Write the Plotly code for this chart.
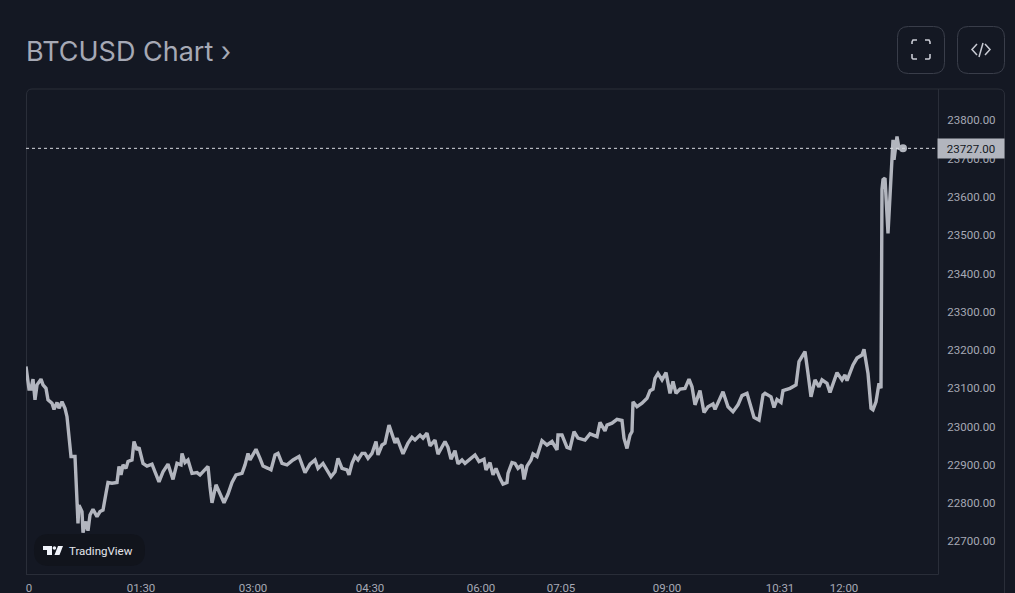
import plotly.graph_objects as go

W, H = 1015, 593
L, R, T, B = 26, 938, 89, 574
BG = "#141823"
GRID = "#2a2e39"
LINE = "#b2b5be"

tick_vals = [3, 115, 227, 344, 455, 535, 641, 754, 818]
tick_text = ["0", "01:30", "03:00", "04:30", "06:00", "07:05", "09:00", "10:31", "12:00"]
price_ticks = [22700, 22800, 22900, 23000, 23100, 23200, 23300, 23400, 23500, 23600, 23700, 23800]

bars = [0,1,3,5,7,9,11,15,17,20,22,26,28,31,33,36,39,41,43,45,49,50,51,52,53,56,57,60,62,64,67,71,74,77,80,82,86,91,93,95,97,100,102,106,108,111,113,117,121,126,129,133,137,142,147,151,155,156,159,162,166,171,174,177,182,184,186,190,194,198,202,206,210,216,219,222,224,230,234,237,242,245,249,252,256,261,267,273,279,284,289,292,297,305,309,312,
316,321,323,326,329,332,336,339,342,346,350,352,356,359,363,366,369,371,374,377,382,386,389,394,397,401,404,409,412,419,422,425,429,432,436,439,444,449,453,458,460,464,467,470,474,477,481,482,486,489,492,496,498,501,505,507,511,516,521,526,531,532,536,541,544,548,552,559,564,571,574,579,581,586,591,596,598,601,604,606,607,611,616,621,624,627,629,632,636,640,644,647,650,654,
659,663,666,669,674,678,682,687,689,697,702,707,712,716,721,724,728,733,737,739,745,748,751,755,757,764,770,773,779,782,785,789,793,796,801,804,811,816,819,821,827,831,836,838,842,845,847,850,853,855,856,857,859,862,865,867,868,871,873,877]

prices = [23157,23131,23098,23098,23124,23070,23109,23124,23109,23100,23070,23061,23045,23063,23048,23065,23048,23026,22974,22922,22922,22843,22791,22747,22795,22778,22723,22752,22728,22769,22784,22765,22778,22782,22826,22854,22852,22854,22896,22874,22900,22891,22909,22913,22961,22939,22946,22904,22897,22902,22882,22856,22882,22902,22862,22904,22900,22930,22906,22913,22878,22880,22874,22882,22896,22843,22801,22848,22824,22801,22824,22854,22874,22878,22900,22930,22913,22941,22917,22897,22891,22887,22926,22930,22904,22900,22913,22922,22880,22902,22913,22891,22904,22869,22882,22917,
22891,22887,22874,22904,22922,22913,22930,22930,22917,22930,22961,22926,22952,22957,23004,22978,22957,22970,22952,22929,22957,22972,22965,22978,22970,22983,22950,22965,22928,22961,22946,22915,22937,22903,22913,22904,22915,22926,22909,22915,22887,22906,22874,22891,22865,22850,22854,22878,22906,22904,22891,22900,22862,22897,22913,22929,22922,22963,22952,22961,22939,22978,22978,22946,22943,22987,22970,22965,22981,22974,23011,22989,23004,23009,23019,23016,22970,22943,22978,22987,23065,23052,23061,23074,23094,23098,23126,23139,23122,23141,23087,23118,23087,23098,
23100,23124,23104,23057,23094,23037,23052,23059,23045,23091,23052,23039,23057,23081,23087,23057,23024,23017,23083,23087,23078,23050,23071,23063,23094,23100,23109,23170,23196,23139,23078,23122,23104,23122,23113,23089,23141,23122,23135,23120,23161,23179,23187,23202,23139,23048,23044,23065,23113,23100,23620,23645,23649,23505,23662,23749,23697,23758,23727,23727]

last_price = 23727


def xp(x):
    return (x - L) / (R - L)


def yp(y):
    return (B - y) / (B - T)


def path(points, close=False):
    s = "M " + " L ".join(f"{xp(x):.5f},{yp(y):.5f}" for x, y in points)
    return s + (" Z" if close else "")


def rrect(x0, y0, x1, y1, r):
    return (
        f"M {xp(x0 + r):.5f},{yp(y0):.5f} L {xp(x1 - r):.5f},{yp(y0):.5f} "
        f"Q {xp(x1):.5f},{yp(y0):.5f} {xp(x1):.5f},{yp(y0 + r):.5f} "
        f"L {xp(x1):.5f},{yp(y1 - r):.5f} Q {xp(x1):.5f},{yp(y1):.5f} {xp(x1 - r):.5f},{yp(y1):.5f} "
        f"L {xp(x0 + r):.5f},{yp(y1):.5f} Q {xp(x0):.5f},{yp(y1):.5f} {xp(x0):.5f},{yp(y1 - r):.5f} "
        f"L {xp(x0):.5f},{yp(y0 + r):.5f} Q {xp(x0):.5f},{yp(y0):.5f} {xp(x0 + r):.5f},{yp(y0):.5f} Z"
    )


def pshape(d, color=None, fill=None, width=1, layer="above"):
    return dict(
        type="path", xref="x domain", yref="y domain", path=d, layer=layer,
        line=dict(color=color or "rgba(0,0,0,0)", width=width),
        fillcolor=fill or "rgba(0,0,0,0)",
    )


shapes = []
panel = (
    f"M {xp(26.5):.5f},{yp(574):.5f} L {xp(26.5):.5f},{yp(95):.5f} "
    f"Q {xp(26.5):.5f},{yp(89):.5f} {xp(32):.5f},{yp(89):.5f} "
    f"L {xp(998):.5f},{yp(89):.5f} Q {xp(1004.5):.5f},{yp(89):.5f} {xp(1004.5):.5f},{yp(95):.5f} "
    f"L {xp(1004.5):.5f},{yp(593):.5f}"
)
shapes.append(pshape(panel, GRID, layer="below"))
shapes.append(pshape(path([(26, 574.5), (938.5, 574.5), (938.5, 89)]), GRID, layer="below"))
shapes.append(pshape(rrect(34, 534, 145, 566, 15), None, "#11141c", layer="below"))
shapes.append(pshape(path([(43, 546), (52, 546), (52, 555), (47, 555), (47, 550), (43, 550)], True), None, "#f0f3fa"))
shapes.append(dict(type="circle", xref="x domain", yref="y domain", x0=xp(52.6), x1=xp(56.2), y0=yp(549.8), y1=yp(546.2),
                   fillcolor="#f0f3fa", line=dict(width=0)))
shapes.append(pshape(path([(58, 546), (63, 546), (59.5, 555), (54.5, 555)], True), None, "#f0f3fa"))
for bx in (897.5, 957.5):
    shapes.append(pshape(rrect(bx, 26.5, bx + 47, 73.5, 11), "#3a3e4a"))
for pts in [
    [(912, 44), (912, 42), (913, 40), (917, 40)],
    [(925, 40), (929, 40), (930, 42), (930, 44)],
    [(930, 54), (930, 58), (929, 59), (925, 59)],
    [(917, 59), (913, 59), (912, 58), (912, 54)],
]:
    shapes.append(pshape(path(pts), "#c8cad3", width=1.6))
shapes.append(pshape(path([(977, 44), (972, 49.5), (977, 55)]), "#c8cad3", width=1.5))
shapes.append(pshape(path([(985, 44), (990, 49.5), (985, 55)]), "#c8cad3", width=1.5))
shapes.append(pshape(path([(983, 43), (979, 57)]), "#c8cad3", width=1.5))
shapes.append(dict(type="line", xref="x domain", yref="y", x0=0, x1=1, y0=last_price, y1=last_price,
                   line=dict(color="#d8dae0", width=1, dash="dot"), layer="above"))

fig = go.Figure()
fig.add_trace(go.Scatter(x=bars, y=prices, mode="lines", line=dict(color=LINE, width=3.4, shape="linear"),
                         hoverinfo="skip", showlegend=False, cliponaxis=False))
fig.add_trace(go.Scatter(x=bars[-1:], y=prices[-1:], mode="markers", marker=dict(color=LINE, size=8),
                         hoverinfo="skip", showlegend=False))

annotations = [
    dict(text="BTCUSD Chart ›", xref="paper", yref="paper", x=xp(23.5), y=yp(51), xanchor="left", yanchor="middle",
         showarrow=False, font=dict(family="Inter", size=27, color="#a6a9b5")),
    dict(text="TradingView", xref="paper", yref="paper", x=xp(67), y=yp(550.5), xanchor="left", yanchor="middle",
         showarrow=False, font=dict(family="Roboto", size=11.5, color="#e4e6ec")),
    dict(text=f"{last_price:.2f}", xref="paper", yref="y", x=xp(971), y=last_price, xanchor="center", yanchor="middle",
         showarrow=False, font=dict(family="Roboto", size=11.5, color="#131722"), bgcolor=LINE,
         width=66, height=19, borderpad=0),
]

fig.update_layout(
    width=W, height=H, autosize=False,
    margin=dict(l=L, r=W - R, t=T, b=H - B, pad=0),
    paper_bgcolor=BG, plot_bgcolor=BG,
    shapes=shapes, annotations=annotations, showlegend=False,
    xaxis=dict(range=[0, R - L], tickmode="array", tickvals=tick_vals, ticktext=tick_text, automargin=False,
               showgrid=False, zeroline=False, showline=False, ticks="outside", ticklen=3, tickcolor=BG,
               tickfont=dict(family="Roboto", size=11.5, color="#a6a9b5")),
    yaxis=dict(side="right", range=[22615, 23882], tickmode="array", tickvals=price_ticks, automargin=False,
               ticktext=[f"{v:.2f}" for v in price_ticks], showgrid=False, zeroline=False, showline=False,
               ticks="outside", ticklen=6, tickcolor=BG,
               tickfont=dict(family="Roboto", size=11.5, color="#a6a9b5")),
)

fig.write_html(
    "out.html",
    config=dict(displayModeBar=False),
    post_script="document.body.style.margin='0';document.body.style.overflow='hidden';document.body.style.background='#141823';",
)
